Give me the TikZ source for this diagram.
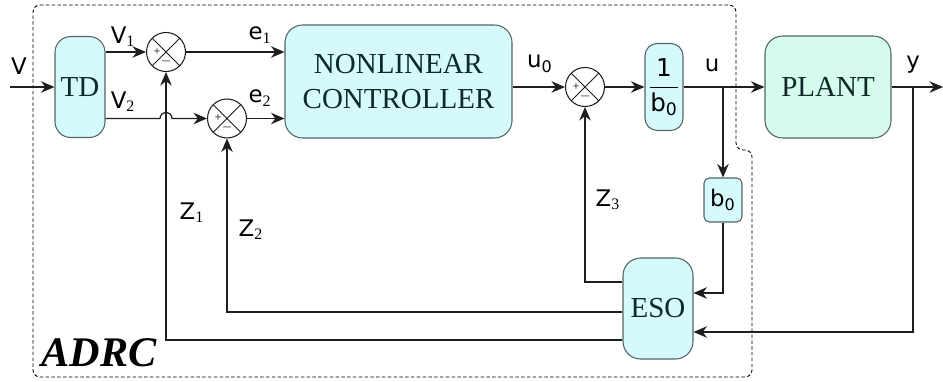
\documentclass[tikz,border=0pt]{standalone}
\usepackage{fontspec}
\setmainfont{Liberation Serif}
\newfontfamily\lblfont{DejaVu Sans}
\usepackage{amsmath}
\usepackage{tikz}
\usetikzlibrary{arrows.meta, positioning, calc}
\definecolor{myline}{RGB}{30,30,30}
\definecolor{myframe}{RGB}{80,100,100}
\definecolor{mytext}{RGB}{15,40,40}
\definecolor{hdrcyan}{RGB}{214,250,252}
\definecolor{hdrmint}{RGB}{214,250,236}
\newcommand{\lsub}[1]{\textsubscript{\rmfamily #1}}
\tikzset{
  block/.style={rectangle, draw=myframe, fill=hdrcyan, align=center,
    font=\rmfamily\fontsize{16.5}{20}\selectfont, text=mytext,
    rounded corners=7pt, line width=0.6pt, inner sep=0pt},
  plantblock/.style={block, fill=hdrmint},
  gainblock/.style={block, rounded corners=3pt,
    font=\lblfont\fontsize{13}{15}\selectfont, text=black},
  sumjunc/.style={circle, draw=myline, minimum size=0.78cm, inner sep=0pt,
    line width=0.6pt, fill=white,
    path picture={\draw[myline, line width=0.5pt]
      (path picture bounding box.north west) -- (path picture bounding box.south east)
      (path picture bounding box.north east) -- (path picture bounding box.south west);}},
  sign/.style={font=\fontsize{7}{7}\selectfont, inner sep=0pt},
  sig/.style={font=\lblfont\fontsize{13}{15}\selectfont, inner sep=1pt},
  arrow/.style={-{Stealth[length=2.7mm, width=2.3mm]}, line width=0.7pt, color=myline},
  line/.style={line width=0.7pt, color=myline},
  frame/.style={dash pattern=on 2pt off 1.3pt, line width=0.5pt, rounded corners=4pt}
}

\begin{document}
\begin{tikzpicture}
  \useasboundingbox (0,0) rectangle (18.86,-7.62);

  % dashed ADRC frame
  \draw[frame] (0.66,-0.1) -- (14.72,-0.1) -- (14.72,-3.0) -- (15.04,-3.0)
    -- (15.04,-7.54) -- (0.66,-7.54) -- cycle;
  \node[font=\rmfamily\bfseries\itshape\fontsize{24}{28}\selectfont, inner sep=0pt] (adrc) at (1.98,-7.06) {ADRC};

  % blocks
  \node[block, minimum width=1.0cm, minimum height=2.02cm, rounded corners=9pt] (td) at (1.6,-1.74) {TD};
  \node[block, minimum width=4.54cm, minimum height=2.26cm, rounded corners=10pt] (ctrl) at (7.97,-1.63) {NONLINEAR\\CONTROLLER};
  \node[gainblock, minimum width=0.76cm, minimum height=1.74cm, rounded corners=7pt,
    font=\lblfont\fontsize{14}{16}\selectfont] (inv) at (13.28,-1.74) {$\dfrac{\text{1}}{\text{b}_{\text{0}}}$};
  \node[plantblock, minimum width=2.52cm, minimum height=2.04cm, rounded corners=10pt] (plant) at (16.56,-1.74) {PLANT};
  \node[gainblock, minimum width=0.76cm, minimum height=0.88cm] (bgain) at (14.46,-4.0) {b\textsubscript{0}};
  \node[block, minimum width=1.4cm, minimum height=2.02cm, rounded corners=10pt] (eso) at (13.16,-6.17) {ESO};

  % summing junctions
  \node[sumjunc] (sum1) at (3.32,-1.04) {};
  \node[sumjunc] (sum2) at (4.54,-2.37) {};
  \node[sumjunc] (sum3) at (11.7,-1.74) {};
  \node[sign] (sum1p) at ([xshift=2.2mm]sum1.west) {+};
  \node[sign] (sum1m) at ([yshift=2.2mm]sum1.south) {$-$};
  \node[sign] (sum2p) at ([xshift=2.2mm]sum2.west) {+};
  \node[sign] (sum2m) at ([yshift=2.2mm]sum2.south) {$-$};
  \node[sign] (sum3p) at ([xshift=2.2mm]sum3.west) {+};
  \node[sign] (sum3m) at ([yshift=2.2mm]sum3.south) {$-$};

  % signal labels
  \node[sig] (lv) at (0.38,-1.32) {V};
  \node[sig] (lv1) at (2.46,-0.74) {V\lsub{1}};
  \node[sig] (lv2) at (2.46,-2.04) {V\lsub{2}};
  \node[sig] (le1) at (5.2,-0.7) {e\lsub{1}};
  \node[sig] (le2) at (5.2,-1.96) {e\lsub{2}};
  \node[sig] (lu0) at (10.8,-1.28) {u\textsubscript{0}};
  \node[sig] (lu) at (14.24,-1.3) {u};
  \node[sig] (ly) at (18.26,-1.3) {y};
  \node[sig] (lz1) at (3.84,-4.26) {Z\lsub{1}};
  \node[sig] (lz2) at (5.02,-4.6) {Z\lsub{2}};
  \node[sig] (lz3) at (12.16,-4.0) {Z\lsub{3}};

  \coordinate (vin) at (0.2,-1.74);
  \coordinate (hop) at (sum1 |- sum2);
  \coordinate (ubr) at (14.46,-1.74);
  \coordinate (ybr) at (18.26,-1.74);
  \coordinate (yout) at (18.86,-1.74);

  % forward path
  \draw[arrow] (vin) -- (td);
  \draw[arrow] (td.east |- sum1) -- (sum1);
  \draw[arrow] (td.east |- sum2) -- ([xshift=-1.2mm]hop)
    arc[start angle=180, end angle=0, radius=1.2mm] -- (sum2);
  \draw[arrow] (sum1) -- (ctrl.west |- sum1);
  \draw[arrow] (sum2) -- (ctrl.west |- sum2);
  \draw[arrow] (ctrl.east |- sum3) -- (sum3);
  \draw[arrow] (sum3) -- (inv);
  \draw[arrow] (inv) -- (plant);
  \draw[arrow] (plant) -- (yout);

  % observer and feedback
  \draw[arrow] (ubr) -- (bgain);
  \draw[arrow] (bgain) |- ([yshift=0.31cm]eso.east);
  \draw[arrow] (ybr) |- ([yshift=-0.47cm]eso.east);
  \draw[arrow] ([yshift=0.53cm]eso.west) -| (sum3);
  \draw[arrow] ([yshift=-0.07cm]eso.west) -| (sum2);
  \draw[arrow] ([yshift=-0.63cm]eso.west) -| (sum1);
\end{tikzpicture}
\end{document}
